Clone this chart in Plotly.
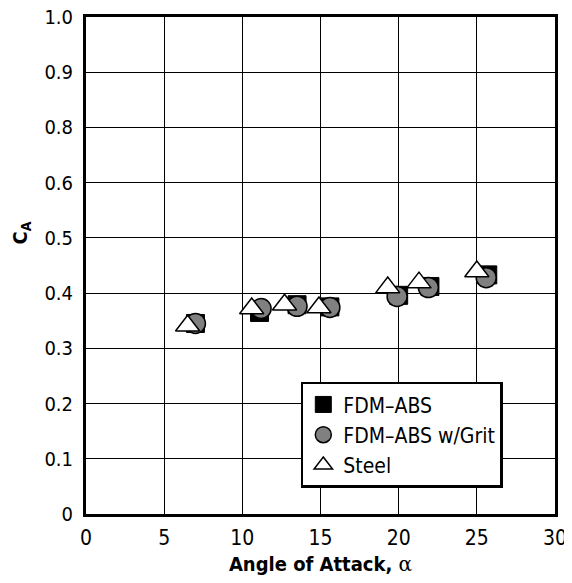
import plotly.graph_objects as go

# ---- data ----
abs_x = [7.0, 11.1, 13.5, 15.6, 20.0, 22.0, 25.7]
abs_y = [0.345, 0.365, 0.379, 0.375, 0.396, 0.412, 0.433]

grit_x = [7.0, 11.2, 13.5, 15.6, 19.9, 21.9, 25.6]
grit_y = [0.345, 0.372, 0.376, 0.374, 0.394, 0.410, 0.428]

steel_x = [6.5, 10.6, 12.7, 14.9, 19.3, 21.3, 25.0]
steel_y = [0.341, 0.372, 0.379, 0.374, 0.410, 0.419, 0.439]

x_tick_vals = [0, 5, 10, 15, 20, 25, 30]
y_tick_labels = ["0", "0.1", "0.2", "0.3", "0.4", "0.5", "0.6", "0.8", "0.9", "1.0"]
y_tick_vals = [round(i * 0.1, 1) for i in range(len(y_tick_labels))]

FONT = "DejaVu Sans Condensed, Liberation Sans Narrow, sans-serif"

fig = go.Figure()
fig.add_trace(go.Scatter(
    x=abs_x, y=abs_y, mode="markers", name="FDM\u2013ABS",
    marker=dict(symbol="square", size=18, color="black",
                line=dict(color="black", width=1)),
))
fig.add_trace(go.Scatter(
    x=grit_x, y=grit_y, mode="markers", name="FDM\u2013ABS w/Grit",
    marker=dict(symbol="circle", size=20, color="#808080",
                line=dict(color="black", width=1.5)),
))
fig.add_trace(go.Scatter(
    x=steel_x, y=steel_y, mode="markers", name="Steel",
    marker=dict(symbol="triangle-up", size=21, color="white",
                line=dict(color="black", width=1.5)),
))

# the page places the figure 8px from the top-left corner (body margin)
fig.update_layout(
    width=564, height=575,
    margin=dict(l=78, r=17, t=9, b=69),
    paper_bgcolor="white", plot_bgcolor="white",
    font=dict(family=FONT, size=21, color="black"),
    showlegend=True,
    legend=dict(
        x=0.458, y=0.266, xanchor="left", yanchor="top",
        bgcolor="white", bordercolor="black", borderwidth=2.5,
        font=dict(family=FONT, size=21, color="black"),
        tracegroupgap=0, itemsizing="trace",
    ),
    xaxis=dict(
        range=[0, 30], tickvals=x_tick_vals,
        showgrid=True, gridcolor="black", gridwidth=1,
        showline=True, linecolor="black", linewidth=3, mirror=True,
        ticks="", ticklabelstandoff=3, zeroline=False, automargin=False,
        ticklabeloverflow="allow",
        tickfont=dict(family=FONT, size=21),
        title=dict(text="<b>Angle of Attack, </b><span style='font-family:DejaVu Serif, Liberation Serif, serif'>\u03b1</span>",
                   font=dict(family=FONT, size=20), standoff=8),
    ),
    yaxis=dict(
        range=[0, 0.9], tickvals=y_tick_vals, ticktext=y_tick_labels,
        showgrid=True, gridcolor="black", gridwidth=1,
        showline=True, linecolor="black", linewidth=3, mirror=True,
        ticks="", ticklabelstandoff=6, zeroline=False, automargin=False,
        ticklabeloverflow="allow",
        tickfont=dict(family=FONT, size=20),
    ),
    annotations=[dict(
        text="<b>C<sub>A</sub></b>", textangle=-90,
        xref="paper", yref="paper", x=-0.138, y=0.565,
        xanchor="center", yanchor="middle", showarrow=False,
        font=dict(family=FONT, size=20, color="black"),
    )],
)

fig.write_html("out.html")
